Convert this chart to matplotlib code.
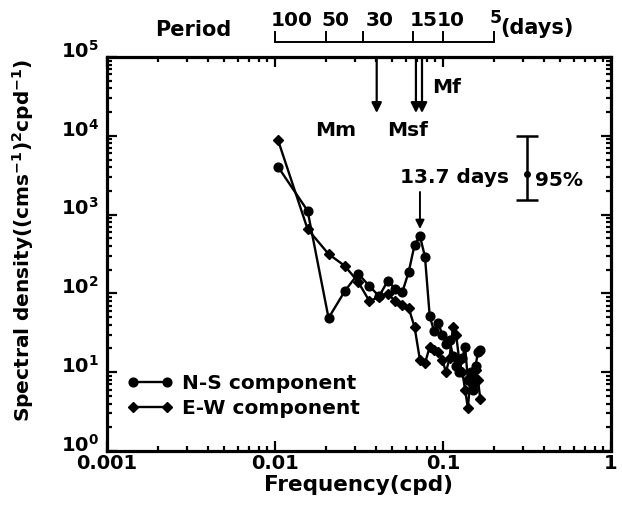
import numpy as np
import matplotlib
matplotlib.use("Agg")
import matplotlib.pyplot as plt
from matplotlib import transforms
from matplotlib.ticker import FixedLocator, FixedFormatter, LogLocator, NullFormatter

plt.rcParams['font.family'] = ['DejaVu Sans']
plt.rcParams['font.weight'] = 'bold'
plt.rcParams['mathtext.fontset'] = 'custom'
plt.rcParams['mathtext.rm'] = 'DejaVu Sans:bold'
plt.rcParams['mathtext.bf'] = 'DejaVu Sans:bold'
plt.rcParams['mathtext.it'] = 'DejaVu Sans:bold'
plt.rcParams['mathtext.default'] = 'bf'

# ---- data ----
harmonic = np.arange(2, 33)            # frequency index k, f = k/192 cpd
freq = harmonic / 192.0
ns_component = [4050, 1120, 48.7, 107, 178, 124, 92, 144, 114, 104, 188, 411, 535, 290,
                51.7, 33, 42, 30, 23, 26, 16, 12, 10, 15, 21, 8, 10, 6, 12, 18, 19]
ew_component = [8850, 656, 316, 223, 140, 80, 90, 98, 80, 71, 65, 37.5, 14.3, 13,
                21, 19, 18, 14.3, 10.1, 15, 37.5, 29.6, 14, 10, 6, 3.5, 8.5, 6.9, 10.6, 8, 4.6]
period_ticks = [100, 50, 30, 15, 10, 5]
tide_names = ['Mm', 'Msf', 'Mf']
tide_freq = [0.0403, 0.0690, 0.0750]
peak_freq = 14 / 192.0
conf_x = 0.315
conf_center = 3275
conf_low = 1531
conf_high = 9940

W, H = 622, 520
L, R, T, B = 107, 611, 57, 451


def px2f(x):
    return 10 ** ((x - L) / ((R - L) / 3.0) - 3)


def py2s(y):
    return 10 ** ((B - y) / ((B - T) / 5.0))


fig = plt.figure(figsize=(6.22, 5.20), dpi=100)
ax = fig.add_axes([L / W, 1 - B / H, (R - L) / W, (B - T) / H])
ax.set_xscale('log')
ax.set_yscale('log')
ax.set_xlim(0.001, 1)
ax.set_ylim(1, 1e5)

ax.plot(freq, ns_component, '-o', color='black', lw=1.7, ms=6.3, label='N-S component')
ax.plot(freq, ew_component, '-D', color='black', lw=1.7, ms=4.6, label='E-W component')

for s in ax.spines.values():
    s.set_linewidth(2.3)
ax.tick_params(which='both', direction='in', top=True, right=True, width=1.6)
ax.tick_params(which='major', length=7, labelsize=14)
ax.tick_params(axis='x', which='major', pad=2)
ax.tick_params(axis='y', which='major', pad=6)
ax.tick_params(which='minor', length=3.5)
ax.xaxis.set_major_locator(FixedLocator([0.001, 0.01, 0.1, 1]))
ax.xaxis.set_major_formatter(FixedFormatter(['0.001', '0.01', '0.1', '1']))
ax.xaxis.set_minor_locator(LogLocator(base=10, subs=np.arange(2, 10), numticks=20))
ax.xaxis.set_minor_formatter(NullFormatter())
ax.yaxis.set_major_locator(FixedLocator([1, 10, 100, 1e3, 1e4, 1e5]))
ax.yaxis.set_major_formatter(FixedFormatter(['$10^{%d}$' % i for i in range(6)]))
ax.yaxis.set_minor_locator(LogLocator(base=10, subs=np.arange(2, 10), numticks=20))
ax.yaxis.set_minor_formatter(NullFormatter())
shift = transforms.ScaledTranslation(0, 6 / 72, fig.dpi_scale_trans)
for lab in ax.get_yticklabels():
    lab.set_transform(lab.get_transform() + shift)
for lab in ax.get_xticklabels() + ax.get_yticklabels():
    lab.set_fontweight('bold')

ax.set_xlabel('Frequency(cpd)', fontsize=15.5, fontweight='bold')
ax.xaxis.set_label_coords(0.5, (B - 475) / (B - T))
ax.set_ylabel('Spectral density((cms$^{-1}$)$^{2}$cpd$^{-1}$)', fontsize=14.5,
              fontweight='bold')
ax.yaxis.set_label_coords((36 - L) / (R - L), (B - 240) / (B - T))

leg = ax.legend(loc='upper left', numpoints=2, frameon=False, fontsize=14.5,
                handlelength=2.3, handletextpad=0.45, labelspacing=0.3,
                borderaxespad=0, borderpad=0,
                bbox_to_anchor=((127 - L) / (R - L), (B - 374) / (B - T)))
for t in leg.get_texts():
    t.set_fontweight('bold')

# tidal arrows
yarrow = py2s(113)
for f in tide_freq:
    ax.annotate('', xy=(f, yarrow), xytext=(f, 1e5),
                arrowprops=dict(arrowstyle='-|>', color='black', lw=1.6,
                                mutation_scale=15, shrinkA=0, shrinkB=0))
ax.text(px2f(336), py2s(131), tide_names[0], fontsize=14.5,
        fontweight='bold', ha='center', va='center')
ax.text(px2f(408), py2s(131), tide_names[1], fontsize=14.5,
        fontweight='bold', ha='center', va='center')
ax.text(px2f(447), py2s(88), tide_names[2], fontsize=14.5,
        fontweight='bold', ha='center', va='center')

# 13.7 days peak
ax.text(px2f(455), py2s(178), '13.7 days', fontsize=14.5,
        fontweight='bold', ha='center', va='center')
ax.annotate('', xy=(peak_freq, py2s(229)), xytext=(peak_freq, py2s(192)),
            arrowprops=dict(arrowstyle='-|>', color='black', lw=1.4,
                            mutation_scale=13, shrinkA=0, shrinkB=0))

# 95% confidence bar
ax.errorbar([conf_x], [conf_center],
            yerr=[[conf_center - conf_low], [conf_high - conf_center]],
            fmt='o', color='black', ms=4, lw=1.8, capsize=8, capthick=1.8)
ax.text(px2f(535), py2s(181), '95%', fontsize=14.5,
        fontweight='bold', ha='left', va='center')

# period axis above
tr = transforms.blended_transform_factory(ax.transData, fig.transFigure)
yline = 1 - 41.7 / H
ytick = 1 - 32 / H
ax.plot([1 / period_ticks[0], 1 / period_ticks[-1]], [yline, yline], color='black',
        lw=1.4, transform=tr, clip_on=False)
label_left_px = {100: 271, 50: 321, 30: 366, 15: 410, 10: 437, 5: 490}
label_y_px = {100: 21, 50: 21, 30: 21, 15: 21, 10: 21, 5: 18}
for p in period_ticks:
    ax.plot([1 / p, 1 / p], [yline, ytick], color='black', lw=1.4, transform=tr,
            clip_on=False)
    ax.text(px2f(label_left_px[p]), 1 - label_y_px[p] / H, str(p),
            fontsize=14.5 if p != 5 else 12.5,
            fontweight='bold', ha='left', va='center', transform=tr,
            clip_on=False)
fig.text(155 / W, 1 - 30 / H, 'Period', fontsize=15, fontweight='bold',
         ha='left', va='center')
fig.text(500 / W, 1 - 28 / H, '(days)', fontsize=15, fontweight='bold',
         ha='left', va='center')

fig.savefig('out.png', dpi=100)
